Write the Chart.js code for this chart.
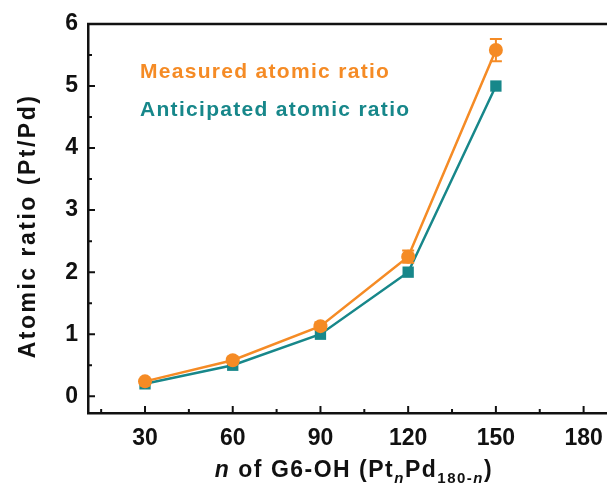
<!DOCTYPE html>
<html><head><meta charset="utf-8">
<script src="https://cdn.jsdelivr.net/npm/chart.js@4"></script>
<style>html,body{margin:0;padding:0;background:#fff}#wrap{width:607px;height:486px}</style>
</head><body><div id="wrap"><canvas id="c" width="607" height="486"></canvas></div>
<script>
const nValues = [30, 60, 90, 120, 150];
const measured = [0.24, 0.58, 1.13, 2.25, 5.58];
const measuredErr = [0.04, 0.05, 0.06, 0.10, 0.18];
const anticipated = [0.2, 0.5, 1.0, 2.0, 5.0];
const xTickValues = [30, 60, 90, 120, 150, 180];
const xMinorValues = [15, 45, 75, 105, 135, 165];
const yTickValues = [0, 1, 2, 3, 4, 5, 6];
const yMinorValues = [0.5, 1.5, 2.5, 3.5, 4.5, 5.5];
const seriesNames = ['Measured atomic ratio', 'Anticipated atomic ratio'];
const yTitle = 'Atomic ratio (Pt/Pd)';

const ORANGE = '#f58b25';
const TEAL = '#17878a';
const FONT = '"Liberation Sans", Arial, sans-serif';

const plugin = {
  id: 'extras',
  afterDatasetsDraw(chart) {
    const ctx = chart.ctx, xs = chart.scales.x, ys = chart.scales.y;
    ctx.save();
    ctx.strokeStyle = ORANGE; ctx.lineWidth = 2;
    nValues.forEach((n, i) => {
      const e = measuredErr[i];
      const px = xs.getPixelForValue(n);
      const top = ys.getPixelForValue(measured[i] + e), bot = ys.getPixelForValue(measured[i] - e);
      ctx.beginPath();
      ctx.moveTo(px, top); ctx.lineTo(px, bot);
      ctx.moveTo(px - 6, top); ctx.lineTo(px + 6, top);
      ctx.moveTo(px - 6, bot); ctx.lineTo(px + 6, bot);
      ctx.stroke();
    });
    ctx.restore();
  },
  afterDraw(chart) {
    const ctx = chart.ctx, xs = chart.scales.x, ys = chart.scales.y, a = chart.chartArea;
    ctx.save();
    ctx.strokeStyle = '#111'; ctx.lineWidth = 2.5;
    ctx.beginPath(); ctx.moveTo(a.left - 1, a.top); ctx.lineTo(a.right, a.top); ctx.stroke();
    ctx.lineWidth = 2;
    ctx.beginPath();
    xTickValues.forEach(v => { const p = xs.getPixelForValue(v); ctx.moveTo(p, a.bottom); ctx.lineTo(p, a.bottom - 7); });
    xMinorValues.forEach(v => { const p = xs.getPixelForValue(v); ctx.moveTo(p, a.bottom); ctx.lineTo(p, a.bottom - 4); });
    yTickValues.forEach(v => { const p = ys.getPixelForValue(v); ctx.moveTo(a.left, p); ctx.lineTo(a.left + 7, p); });
    yMinorValues.forEach(v => { const p = ys.getPixelForValue(v); ctx.moveTo(a.left, p); ctx.lineTo(a.left + 4, p); });
    ctx.stroke();
    // legend texts
    ctx.font = 'bold 21px ' + FONT;
    ctx.letterSpacing = '1.3px';
    ctx.textBaseline = 'middle'; ctx.textAlign = 'left';
    ctx.fillStyle = ORANGE; ctx.fillText(seriesNames[0], 140, 72);
    ctx.fillStyle = TEAL; ctx.fillText(seriesNames[1], 140, 110);
    // y title
    ctx.fillStyle = '#111';
    ctx.font = 'bold 23px ' + FONT;
    ctx.letterSpacing = '2.5px';
    ctx.save();
    ctx.translate(29, 226);
    ctx.rotate(-Math.PI / 2);
    ctx.textAlign = 'center';
    ctx.fillText(yTitle, 0, 0);
    ctx.restore();
    // x title with subscripts
    ctx.letterSpacing = '1.5px';
    const parts = [
      {t: 'n', f: 'italic bold 23px ' + FONT, dy: 0},
      {t: ' of G6-OH (Pt', f: 'bold 23px ' + FONT, dy: 0},
      {t: 'n', f: 'italic bold 15px ' + FONT, dy: 6},
      {t: 'Pd', f: 'bold 23px ' + FONT, dy: 0},
      {t: '180-', f: 'bold 15px ' + FONT, dy: 6},
      {t: 'n', f: 'italic bold 15px ' + FONT, dy: 6},
      {t: ')', f: 'bold 23px ' + FONT, dy: 0}
    ];
    let total = 0;
    parts.forEach(p => { ctx.font = p.f; p.w = ctx.measureText(p.t).width; total += p.w; });
    let x = 354 - total / 2;
    const base = 477;
    ctx.textAlign = 'left'; ctx.textBaseline = 'alphabetic';
    parts.forEach(p => { ctx.font = p.f; ctx.fillText(p.t, x, base + p.dy); x += p.w; });
    ctx.restore();
  }
};

new Chart(document.getElementById('c'), {
  type: 'line',
  data: {
    datasets: [
      {
        label: seriesNames[0],
        data: nValues.map((n, i) => ({x: n, y: measured[i]})),
        borderColor: ORANGE, backgroundColor: ORANGE,
        borderWidth: 2.5, pointStyle: 'circle', pointRadius: 7, pointHoverRadius: 7,
        pointBorderWidth: 0, tension: 0
      },
      {
        label: seriesNames[1],
        data: nValues.map((n, i) => ({x: n, y: anticipated[i]})),
        borderColor: TEAL, backgroundColor: TEAL,
        borderWidth: 2.5, pointStyle: 'rect', pointRadius: 8, pointHoverRadius: 8,
        pointBorderWidth: 0, tension: 0
      }
    ]
  },
  options: {
    responsive: false, animation: false, devicePixelRatio: 1,
    layout: {autoPadding: false, padding: {top: 24, right: 0, left: 0, bottom: 0}},
    plugins: {legend: {display: false}, tooltip: {enabled: false}},
    scales: {
      x: {
        type: 'linear', min: 10.5, max: 188,
        afterBuildTicks: s => { s.ticks = xTickValues.map(v => ({value: v})); },
        afterFit: s => { s.height = 73; s.paddingRight = 0; s.paddingLeft = 0; },
        grid: {display: false, drawTicks: false},
        border: {display: true, color: '#111', width: 2.5},
        ticks: {color: '#111', font: {family: FONT, size: 23, weight: 'bold'}, padding: 12, maxRotation: 0, autoSkip: false}
      },
      y: {
        type: 'linear', min: -0.27, max: 6,
        afterBuildTicks: s => { s.ticks = yTickValues.map(v => ({value: v})); },
        afterFit: s => { s.width = 88; s.paddingTop = 0; s.paddingBottom = 0; },
        grid: {display: false, drawTicks: false},
        border: {display: true, color: '#111', width: 2.5},
        ticks: {color: '#111', font: {family: FONT, size: 23, weight: 'bold'}, padding: 10}
      }
    }
  },
  plugins: [plugin]
});
</script>
</body></html>
